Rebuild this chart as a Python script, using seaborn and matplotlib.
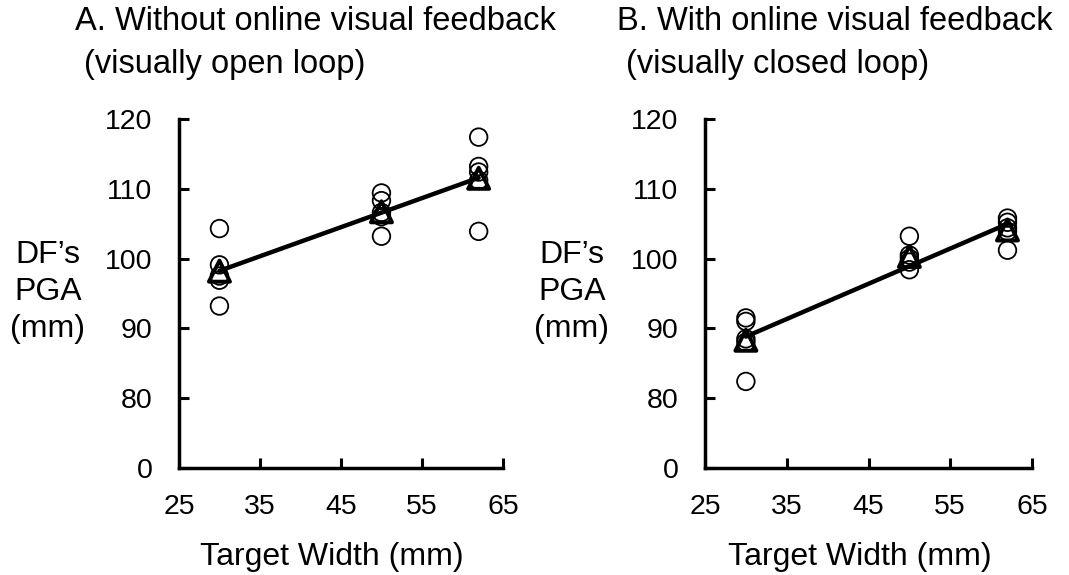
import numpy as np
import pandas as pd
import matplotlib
matplotlib.use("Agg")
import matplotlib.pyplot as plt
import seaborn as sns

# ---- data ----
widths = [30, 50, 62]
# individual participants (circles)
a_circles = {30: [104.3, 99.1, 97.5, 96.9, 93.2],
             50: [109.4, 108.3, 106.6, 106.0, 103.2],
             62: [117.4, 113.2, 112.4, 111.2, 103.9]}
b_circles = {30: [91.5, 91.0, 88.5, 88.0, 82.4],
             50: [103.2, 100.5, 100.0, 99.5, 98.4],
             62: [105.8, 105.2, 104.4, 103.9, 101.2]}
# group means (triangles)
a_means = [98.2, 106.7, 111.5]
b_means = [88.3, 100.3, 104.1]

titles = [("A. Without online visual feedback", "(visually open loop)"),
          ("B. With online visual feedback", "(visually closed loop)")]
xticks = [25, 35, 45, 55, 65]
yticks = [70, 80, 90, 100, 110, 120]
ytick_labels = ["0", "80", "90", "100", "110", "120"]
ylabel = "DF\u2019s\nPGA\n(mm)"
xlabel = "Target Width (mm)"

sns.set_theme(style="white")
plt.rcParams['font.family'] = ['Liberation Sans', 'DejaVu Sans']
plt.rcParams['text.color'] = 'black'

fig = plt.figure(figsize=(10.69, 5.75), dpi=100)
positions = [[0.1674, 0.1861, 0.3031, 0.6070],
             [0.6595, 0.1861, 0.3059, 0.6070]]
title_x = [75 / 1069, 617 / 1069]
sub_x = [84 / 1069, 626 / 1069]
ylabel_x = [48 / 1069, 572 / 1069]

for i, (circ, means) in enumerate([(a_circles, a_means), (b_circles, b_means)]):
    ax = fig.add_axes(positions[i])
    df = pd.DataFrame([(w, v) for w, vals in circ.items() for v in vals],
                      columns=["width", "pga"])
    sns.scatterplot(data=df, x="width", y="pga", ax=ax, marker="o",
                    s=160, facecolor="none", edgecolor="black", linewidth=1.3,
                    zorder=3, clip_on=False)
    sns.regplot(x=widths, y=means, ax=ax, scatter=False, ci=None,
                color="black", line_kws=dict(linewidth=3.2, zorder=4))
    sns.scatterplot(x=widths, y=means, ax=ax, marker="^", s=230,
                    facecolor="none", edgecolor="black", linewidth=2.8,
                    zorder=5, clip_on=False)
    ax.set_xlim(25, 65)
    ax.set_ylim(70, 120)
    ax.set_xticks(xticks)
    ax.set_yticks(yticks)
    ax.set_yticklabels(ytick_labels)
    ax.tick_params(axis="both", direction="in", length=7, width=2.2,
                   labelsize=20.5, colors="black", left=True, bottom=True)
    ax.tick_params(axis="y", pad=19)
    ax.tick_params(axis="x", pad=19)
    for s in ["top", "right"]:
        ax.spines[s].set_visible(False)
    for s in ["left", "bottom"]:
        ax.spines[s].set_linewidth(2.5)
        ax.spines[s].set_color("black")
    ax.set_xlabel(xlabel, fontsize=23, color="black")
    ax.xaxis.label.set_va("center")
    ax.xaxis.set_label_coords(0.472, -0.255)
    ax.set_ylabel("")
    fig.text(ylabel_x[i], 1 - 292 / 575, ylabel, fontsize=23, ha="center",
             va="center", linespacing=1.3)
    fig.text(title_x[i], 1 - 22 / 575, titles[i][0], fontsize=23.5,
             ha="left", va="center")
    fig.text(sub_x[i], 1 - 65 / 575, titles[i][1], fontsize=23.5,
             ha="left", va="center")

fig.savefig("out.png", dpi=100, facecolor="white")
